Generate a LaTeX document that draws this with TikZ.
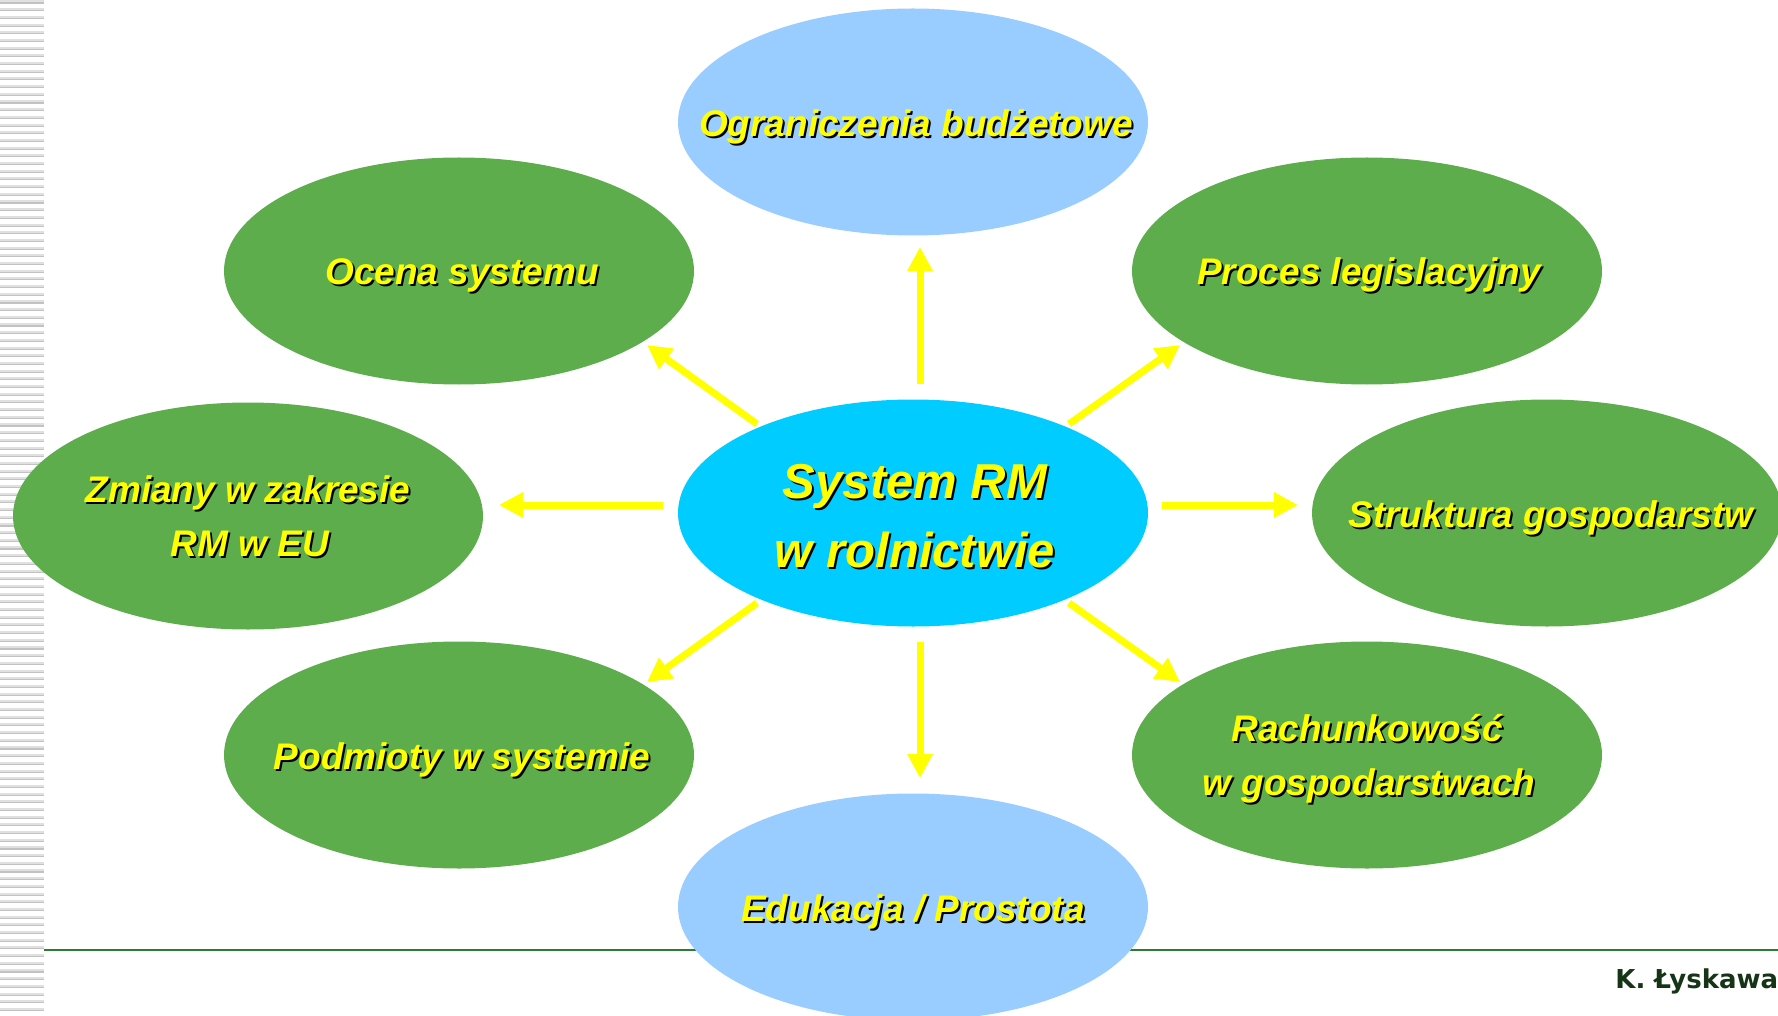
\documentclass[tikz,border=0pt]{standalone}
\usepackage{fontspec}
\setmainfont{Liberation Sans}
\newfontfamily\authfont{DejaVu Sans}
\usetikzlibrary{shapes.geometric,arrows.meta,calc}
\definecolor{ovgreen}{RGB}{94,173,76}
\definecolor{ovlblue}{RGB}{153,204,255}
\definecolor{ovcyan}{RGB}{0,204,255}
\definecolor{txtyel}{RGB}{255,255,0}
\definecolor{rulegreen}{RGB}{46,122,56}
\definecolor{authgreen}{RGB}{22,52,22}
\newcommand\shd[1]{\leavevmode\rlap{\kern1pt\raisebox{-1pt}{\color{black}#1}}#1}
\tikzset{
  oval/.style={ellipse, minimum width=235pt, minimum height=113.5pt, inner sep=0pt},
  greenoval/.style={oval, fill=ovgreen},
  blueoval/.style={oval, fill=ovlblue},
  centeroval/.style={oval, fill=ovcyan},
  lbl/.style={anchor=base, inner sep=0pt, text=txtyel, font=\fontsize{18.5}{22}\selectfont\bfseries\itshape},
  biglbl/.style={lbl, font=\fontsize{24.5}{29}\selectfont\bfseries\itshape},
  yarrow/.style={draw=txtyel, line width=3.5pt, -{Triangle[length=12pt,width=12pt]}},
}
\begin{document}
\begin{tikzpicture}[x=0.5pt,y=-0.5pt]
\clip (0,0) rectangle (1778,1016);
\fill[white] (0,0) rectangle (1778,1016);
% left stripes
\foreach \i in {0,...,132}{
  \fill[black!12] (0,\i*7.69+0.5) rectangle (44,\i*7.69+2.5);
  \fill[black!24] (0,\i*7.69+2.5) rectangle (44,\i*7.69+3.6);
}
% bottom rule
\draw[rulegreen, line width=0.8pt] (44,950) -- (1778,950);
% ovals
\node[centeroval] (ctr) at (913,513) {};
\node[blueoval] (top) at (913,122) {};
\node[blueoval] (bot) at (913,907) {};
\node[greenoval] (ocena) at (459,271) {};
\node[greenoval] (proces) at (1367,271) {};
\node[greenoval] (zmiany) at (248,516) {};
\node[greenoval] (strukt) at (1547,513) {};
\node[greenoval] (podm) at (459,755) {};
\node[greenoval] (rach) at (1367,755) {};
% labels
\node[biglbl] (ctrA) at ($(ctr.center)+(2,-15)$) {\shd{System RM}};
\node[biglbl] (ctrB) at ($(ctr.center)+(2,54)$) {\shd{w rolnictwie}};
\node[lbl] (topT) at ($(top.center)+(3,15)$) {\shd{Ograniczenia budżetowe}};
\node[lbl] (botT) at ($(bot.center)+(0,14)$) {\shd{Edukacja / Prostota}};
\node[lbl] (ocenaT) at ($(ocena.center)+(3,14)$) {\shd{Ocena systemu}};
\node[lbl] (procesT) at ($(proces.center)+(2,14)$) {\shd{Proces legislacyjny}};
\node[lbl] (zmianyA) at ($(zmiany.center)+(0,-14)$) {\shd{Zmiany w zakresie}};
\node[lbl] (zmianyB) at ($(zmiany.center)+(2,40)$) {\shd{RM w EU}};
\node[lbl] (struktT) at ($(strukt.center)+(4,14)$) {\shd{Struktura gospodarstw}};
\node[lbl] (podmT) at ($(podm.center)+(3,14)$) {\shd{Podmioty w systemie}};
\node[lbl] (rachA) at ($(rach.center)+(0,-14)$) {\shd{Rachunkowość}};
\node[lbl] (rachB) at ($(rach.center)+(2,40)$) {\shd{w gospodarstwach}};
% arrow endpoints
\coordinate (uS) at (920,384);  \coordinate (uE) at (920,247);
\coordinate (dS) at (920,642);  \coordinate (dE) at (920,778);
\coordinate (lS) at (663,505);  \coordinate (lE) at (499,505);
\coordinate (rS) at (1162,505); \coordinate (rE) at (1298,505);
\coordinate (ulS) at (757,424); \coordinate (ulE) at (647,345);
\coordinate (urS) at (1069,424);\coordinate (urE) at (1180,345);
\coordinate (dlS) at (757,603); \coordinate (dlE) at (647,682);
\coordinate (drS) at (1069,603);\coordinate (drE) at (1180,682);
\draw[yarrow] (uS) -- (uE);
\draw[yarrow] (dS) -- (dE);
\draw[yarrow] (lS) -- (lE);
\draw[yarrow] (rS) -- (rE);
\draw[yarrow] (ulS) -- (ulE);
\draw[yarrow] (urS) -- (urE);
\draw[yarrow] (dlS) -- (dlE);
\draw[yarrow] (drS) -- (drE);
% author
\node[anchor=base west, inner sep=0pt, text=authgreen, font=\authfont\bfseries\fontsize{13}{15}\selectfont] (auth) at (1615,988) {K. Łyskawa};
\end{tikzpicture}
\end{document}
